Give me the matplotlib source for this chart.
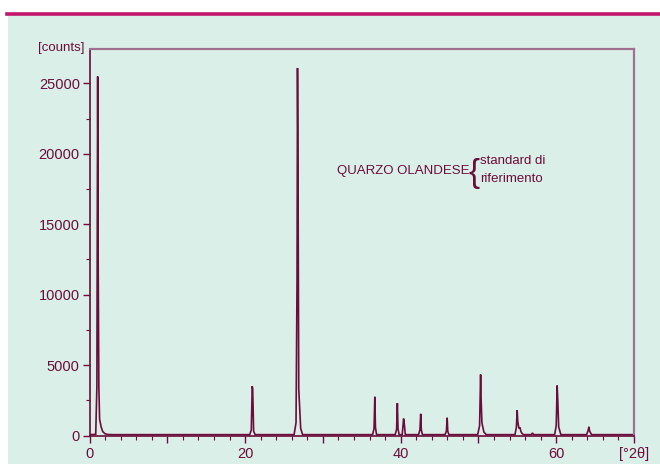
import matplotlib
matplotlib.use("Agg")
import matplotlib.pyplot as plt
from matplotlib.patches import Rectangle
from matplotlib.lines import Line2D

plt.rcParams['font.family'] = ['Liberation Sans', 'DejaVu Sans']

# Diffraction trace (2-theta in degrees, counts)
two_theta = [0.0, 0.8, 0.95, 1.0, 1.05, 1.12, 1.2, 1.3, 1.5, 1.7, 2.0, 2.4, 3.0,
             20.6, 20.8, 20.92, 20.98, 21.1, 21.3,
             26.3, 26.55, 26.68, 26.74, 26.8, 26.9, 27.15, 27.4,
             36.4, 36.58, 36.68, 36.76, 36.9,
             39.3, 39.48, 39.58, 39.66, 39.8,
             40.2, 40.38, 40.46, 40.6,
             42.3, 42.48, 42.58, 42.66, 42.8,
             45.7, 45.88, 45.98, 46.06, 46.2,
             49.9, 50.15, 50.28, 50.34, 50.45, 50.7, 51.0,
             54.7, 54.88, 54.98, 55.06, 55.2, 55.35, 55.45, 55.6, 55.8,
             56.8, 56.95, 57.1,
             59.8, 60.0, 60.12, 60.2, 60.32, 60.6,
             63.9, 64.1, 64.2, 64.3, 64.55,
             70.0]
counts = [60, 80, 3500, 15000, 25500, 12000, 3500, 1150, 600, 280, 120, 70, 60,
          60, 400, 3500, 3300, 300, 60,
          60, 900, 11000, 26100, 20000, 3300, 500, 60,
          60, 500, 2750, 600, 60,
          60, 450, 2300, 500, 60,
          60, 1200, 900, 60,
          60, 400, 1540, 400, 60,
          60, 300, 1260, 300, 60,
          60, 700, 4330, 2700, 900, 250, 60,
          60, 600, 1800, 1000, 500, 570, 300, 150, 60,
          60, 180, 60,
          60, 700, 3550, 2500, 600, 60,
          60, 350, 620, 300, 60,
          60]

x_major = [0, 10, 20, 30, 40, 50, 60, 70]
x_labels = ['0', '', '20', '', '40', '', '60', '[°2θ]']
y_major = [0, 5000, 10000, 15000, 20000, 25000]
y_labels = ['0', '5000', '10000', '15000', '20000', '25000']

dark = '#6a0d3a'
frame = '#a07090'
bg = '#dbefe9'

fig = plt.figure(figsize=(6.6, 4.65), dpi=100)
fig.patch.set_facecolor('white')
fig.patches.append(Rectangle((8 / 660, 0.002), 1, (465 - 15) / 465 - 0.002,
                             transform=fig.transFigure, facecolor=bg,
                             edgecolor='none', zorder=-10))
fig.lines.append(Line2D([7 / 660, 1], [(465 - 13.8) / 465] * 2,
                        transform=fig.transFigure, color='#c2166c', lw=2.6,
                        zorder=-5))

ax = fig.add_axes([89.5 / 660, (465 - 435.5) / 465, 544.5 / 660, 386.5 / 465])
ax.set_zorder(5)
ax.set_facecolor('none')
ax.plot(two_theta, counts, color=dark, lw=1.2, solid_joinstyle='miter')

ax.set_xlim(0, 70)
ax.set_ylim(0, 27450)
ax.set_xticks(x_major)
ax.set_xticklabels(x_labels)
ax.set_xticks(list(range(0, 71, 2)), minor=True)
ax.set_yticks(y_major)
ax.set_yticklabels(y_labels)
ax.set_yticks(list(range(0, 27500, 2500)), minor=True)

ax.tick_params(axis='both', which='major', length=5, width=1, color=dark,
               labelcolor=dark, labelsize=10.5, pad=2)
ax.tick_params(axis='both', which='minor', length=3, width=0.8, color=dark)
ax.tick_params(axis='x', which='major', pad=3)

for s in ['left', 'bottom']:
    ax.spines[s].set_color(dark)
    ax.spines[s].set_linewidth(1.2)
for s in ['top', 'right']:
    ax.spines[s].set_color(frame)
    ax.spines[s].set_linewidth(1.6)

fig.text(61 / 660, 1 - 48 / 465, '[counts]', color=dark, fontsize=9.5,
         ha='center', va='center')

ax.text(48.8, (436 - 172) / 70.4 * 5000, 'QUARZO OLANDESE', color=dark,
        fontsize=9.5, ha='right', va='center')
ax.text(48.75, (436 - 174) / 70.4 * 5000, '{', color=dark, fontsize=24,
        ha='left', va='center')
ax.text(50.2, (436 - 162) / 70.4 * 5000, 'standard di', color=dark,
        fontsize=9.5, ha='left', va='center')
ax.text(50.2, (436 - 180) / 70.4 * 5000, 'riferimento', color=dark,
        fontsize=9.5, ha='left', va='center')

fig.savefig('out.png', dpi=100, facecolor=fig.get_facecolor())
